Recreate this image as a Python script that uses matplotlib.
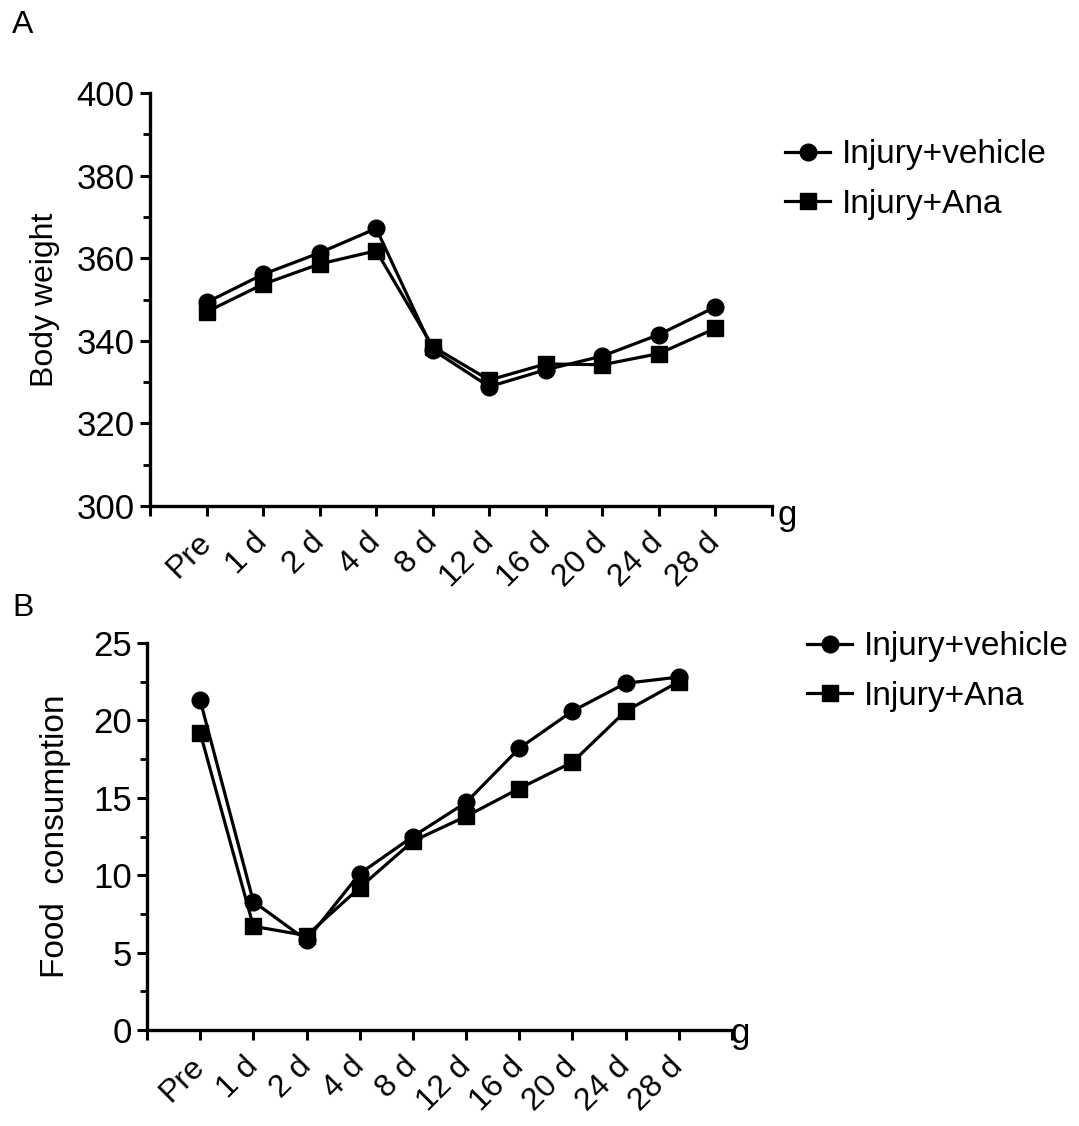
import matplotlib
matplotlib.use("Agg")
import matplotlib.pyplot as plt
from matplotlib.ticker import MultipleLocator

plt.rcParams['font.family'] = ['Liberation Sans', 'DejaVu Sans']

categories = ["Pre", "1 d", "2 d", "4 d", "8 d", "12 d", "16 d", "20 d", "24 d", "28 d"]
series_names = ["Injury+vehicle", "Injury+Ana"]

weight_vehicle = [349.3, 356.1, 361.3, 367.2, 337.8, 328.9, 333.0, 336.3, 341.5, 348.2]
weight_ana = [347.0, 353.7, 358.6, 361.8, 338.6, 330.5, 334.4, 334.2, 336.9, 343.0]

food_vehicle = [21.3, 8.3, 5.8, 10.1, 12.5, 14.7, 18.2, 20.6, 22.4, 22.8]
food_ana = [19.2, 6.7, 6.1, 9.2, 12.2, 13.8, 15.6, 17.3, 20.6, 22.5]

W, H = 1079, 1126
fig = plt.figure(figsize=(W / 100, H / 100), dpi=100)


def frac(left, top, right, bottom):
    return [left / W, 1 - bottom / H, (right - left) / W, (bottom - top) / H]


def style_axes(ax, ylim, major, minor, ylabel, ylabel_pad, ylabel_size, gx, gy):
    x = list(range(len(categories)))
    ax.set_xlim(-1, len(categories))
    ax.set_ylim(*ylim)
    ax.spines['top'].set_visible(False)
    ax.spines['right'].set_visible(False)
    for s in ('left', 'bottom'):
        ax.spines[s].set_linewidth(2.4)
        ax.spines[s].set_capstyle('projecting')
    ax.set_xticks(list(range(-1, len(categories) + 1)))
    ax.set_xticklabels([""] + categories + [""], rotation=45, ha='right', va='center',
                       rotation_mode='anchor', fontsize=23)
    ax.yaxis.set_major_locator(MultipleLocator(major))
    ax.yaxis.set_minor_locator(MultipleLocator(minor))
    ax.tick_params(axis='both', which='major', direction='out', length=7, width=2.2,
                   labelsize=25, pad=4)
    ax.tick_params(axis='x', labelsize=23, pad=16)
    ax.tick_params(axis='y', which='minor', direction='out', length=5, width=2.0)
    ax.set_ylabel(ylabel, fontsize=ylabel_size, labelpad=ylabel_pad)
    ax.text(gx, gy, "g", transform=ax.transAxes, fontsize=25,
            ha='center', va='center')
    return x


legend_kw = dict(loc='upper left', frameon=False, fontsize=24,
                 handlelength=1.35, handletextpad=0.36, borderaxespad=0.0,
                 labelspacing=0.55)

# Panel A
axA = fig.add_axes(frac(150, 93, 772, 506))
xA = style_axes(axA, (300, 400), 20, 10, "Body weight", 12, 23, 1.024, -0.022)
axA.plot(xA, weight_vehicle, '-o', color='black', lw=2.3, ms=12, label=series_names[0])
axA.plot(xA, weight_ana, '-s', color='black', lw=2.3, ms=11, label=series_names[1])
axA.legend(bbox_to_anchor=(1.0, 0.92), **legend_kw)

# Panel B
axB = fig.add_axes(frac(147, 643, 732, 1030))
xB = style_axes(axB, (0, 25), 5, 2.5, "Food  consumption", 16, 24, 1.014, -0.01)
axB.plot(xB, food_vehicle, '-o', color='black', lw=2.3, ms=12, label=series_names[0])
axB.plot(xB, food_ana, '-s', color='black', lw=2.3, ms=11, label=series_names[1])
axB.legend(bbox_to_anchor=(1.106, 1.065), **legend_kw)

fig.text(12 / W, 1 - 25 / H, "A", fontsize=23, ha='left', va='center')
fig.text(12 / W, 1 - 608 / H, "B", fontsize=23, ha='left', va='center')

fig.savefig("out.png", dpi=100)
